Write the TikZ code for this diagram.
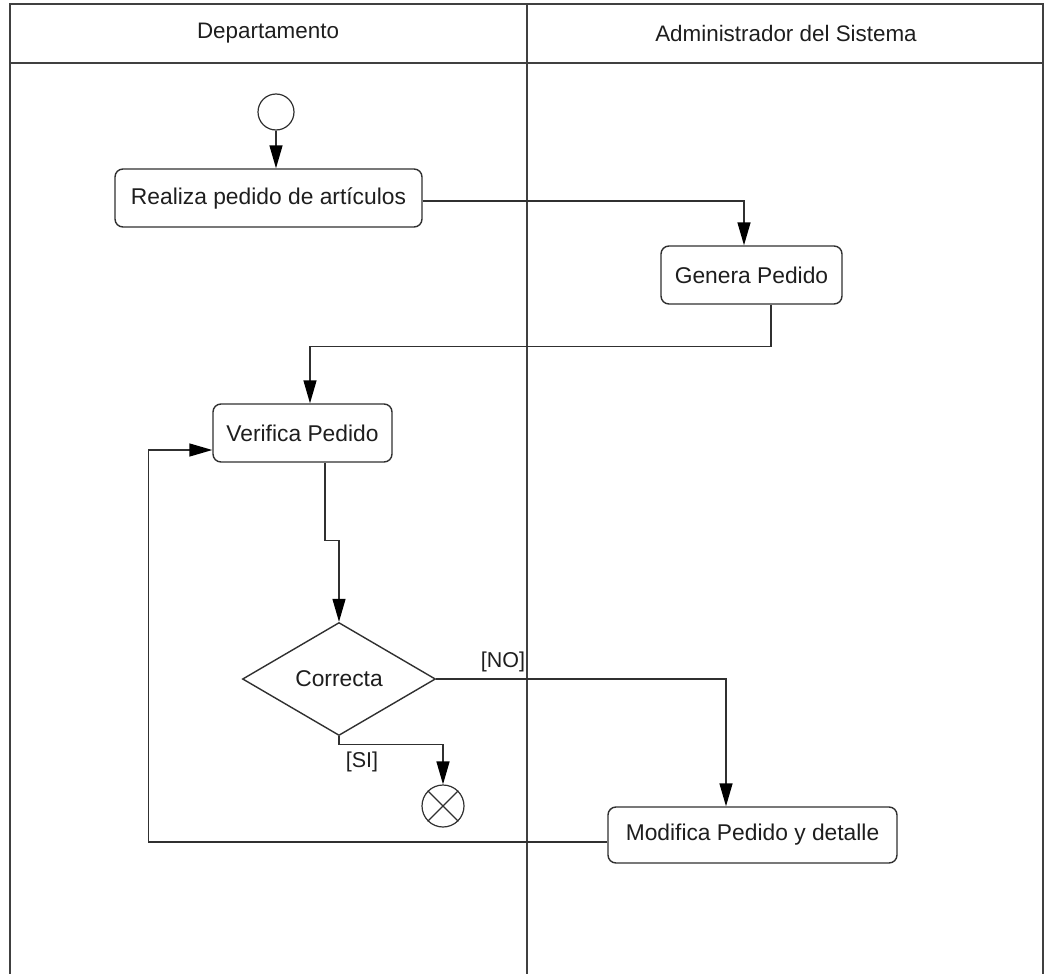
\documentclass[tikz,border=0pt]{standalone}
\usepackage{fontspec}
\setmainfont{Liberation Sans}
\usetikzlibrary{arrows.meta,shapes.geometric}
\definecolor{ink}{HTML}{1E1E1E}
\definecolor{edge}{HTML}{303030}
\definecolor{lane}{HTML}{404040}
\begin{document}
\begin{tikzpicture}[x=1pt,y=-1pt,
  txt/.style={text=ink,font=\fontsize{22.8}{27}\selectfont},
  hdr/.style={text=ink,font=\fontsize{22.4}{27}\selectfont},
  action/.style={txt,draw=edge,line width=1.4pt,rounded corners=8pt,fill=white,inner sep=0pt},
  decision/.style={txt,draw=edge,line width=1.4pt,diamond,fill=white,inner sep=0pt,
    minimum width=193pt,minimum height=113pt},
  startnode/.style={circle,draw=edge,line width=1.2pt,minimum size=36pt,inner sep=0pt},
  endnode/.style={circle,draw=edge,line width=1.2pt,minimum size=42pt,inner sep=0pt},
  flow/.style={draw=edge,line width=1.4pt,
    -{Triangle[length=23pt,width=13pt,color=black]}},
  guard/.style={txt,font=\fontsize{21.5}{26}\selectfont,inner sep=0pt}]
\useasboundingbox (0,0) rectangle (1047,974);

% swimlanes
\draw[lane,line width=1.6pt] (10,974) -- (10,4) -- (1043,4) -- (1043,974);
\draw[lane,line width=1.6pt] (10,63) -- (1043,63);
\draw[lane,line width=1.6pt] (527,4) -- (527,974);
\node[hdr] (laneA) at (268,33) {Departamento};
\node[hdr] (laneB) at (786,33) {Administrador del Sistema};

% activities
\node[startnode] (start) at (276,112) {};
\node[action,minimum width=307pt,minimum height=58pt] (realiza) at (268.5,198) {Realiza pedido de artículos};
\node[action,minimum width=181pt,minimum height=58pt] (genera) at (751.5,275) {Genera Pedido};
\node[action,minimum width=179pt,minimum height=58pt] (verifica) at (302.5,433) {Verifica Pedido};
\node[decision] (dec) at (339,679) {Correcta};
\node[endnode] (end) at (443,806) {};
\draw[edge,line width=1.2pt] (end.north west) -- (end.south east)
                             (end.north east) -- (end.south west);
\node[action,minimum width=289pt,minimum height=56pt] (modifica) at (752.5,835) {Modifica Pedido y detalle};

% flows
\draw[flow] (start) -- (start |- realiza.north);
\draw[flow] ([yshift=-3pt]realiza.east) -| ([xshift=-7.5pt]genera.north);
\draw[flow] ([xshift=19.5pt]genera.south) -- ++(0,42) -| ([xshift=7.5pt]verifica.north);
\draw[flow] ([xshift=22.5pt]verifica.south) -- ++(0,78) -| (dec.north);
\draw[flow] (dec.south) -- ++(0,8) -| (end.north);
\draw[flow] (dec.east) -| ([xshift=-26.5pt]modifica.north);
\draw[flow] ([yshift=-7pt]modifica.west) -- ++(-459,0) |- ([yshift=-17pt]verifica.west);

% guards
\node[guard] (si) at (362,762) {[SI]};
\node[guard] (no) at (503,662) {[NO]};
\end{tikzpicture}
\end{document}
